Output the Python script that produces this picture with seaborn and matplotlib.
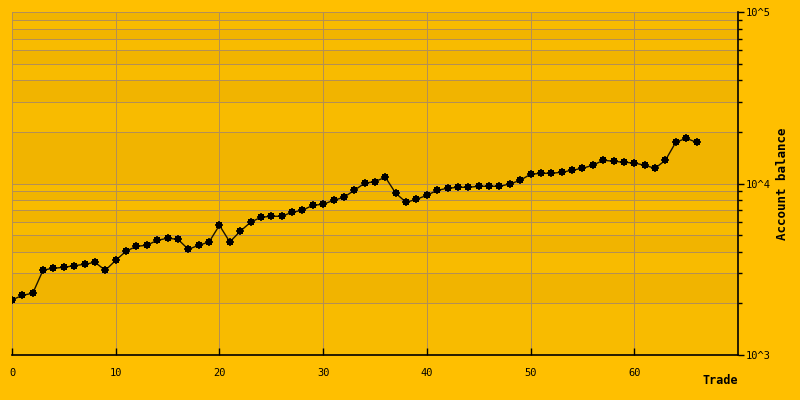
import matplotlib
matplotlib.use("Agg")
import matplotlib.pyplot as plt
import numpy as np
import pandas as pd
import seaborn as sns
from matplotlib.ticker import LogLocator, FuncFormatter, FixedLocator, NullFormatter

# ---- data ----
trade = list(range(67))
balance = [
    2093, 2229, 2290, 3130, 3203, 3246, 3317, 3380, 3471, 3118,
    3566, 4030, 4303, 4362, 4665, 4792, 4727, 4134, 4362, 4560,
    5705, 4560, 5265, 5939, 6353, 6438, 6438, 6794, 6979, 7463,
    7564, 7980, 8308, 9128, 10030, 10270, 10870, 8768, 7770, 8090,
    8535, 9128, 9376, 9501, 9501, 9631, 9631, 9631, 9933, 10440,
    11320, 11470, 11470, 11630, 11940, 12270, 12770, 13660, 13480, 13290,
    13170, 12770, 12270, 13660, 17390, 18350, 17390,
]
x_ticks = [0, 10, 20, 30, 40, 50, 60]
x_label = "Trade"
y_label = "Account balance"

df = pd.DataFrame({"Trade": trade, "Balance": balance})

sns.set_theme(style="white")
plt.rcParams["font.family"] = ["DejaVu Sans Mono", "DejaVu Sans"]

BG = "#FFBF00"
BAND_A = "#F8BB00"
BAND_B = "#F1B400"
GRID = "#B38F55"

fig = plt.figure(figsize=(8, 4), dpi=100, facecolor=BG)
ax = fig.add_axes([12 / 800, 45 / 400, 726 / 800, 343 / 400])
ax.set_facecolor(BAND_A)
ax.set_yscale("log")
ax.set_ylim(1e3, 1e5)
ax.set_xlim(0, 70)

# alternating bands between horizontal grid lines
edges = [m * 10.0 ** e for e in (3, 4) for m in range(1, 10)] + [1e5]
for i, (a, b) in enumerate(zip(edges[:-1], edges[1:])):
    ax.axhspan(a, b, color=BAND_A if i % 2 == 0 else BAND_B, lw=0, zorder=0)

sns.lineplot(data=df, x="Trade", y="Balance", ax=ax, color="#1a1200",
             linewidth=1.0, marker="s", markersize=4, markeredgewidth=0,
             markerfacecolor="black", zorder=3)
sns.scatterplot(data=df, x="Trade", y="Balance", ax=ax, color="black",
                marker="+", s=40, linewidth=1.2, zorder=4, legend=False)

ax.xaxis.set_major_locator(FixedLocator(x_ticks))
ax.yaxis.set_major_locator(LogLocator(base=10))
ax.yaxis.set_minor_locator(LogLocator(base=10, subs=range(2, 10)))
ax.yaxis.set_major_formatter(FuncFormatter(lambda v, p: "10^%d" % round(np.log10(v))))
ax.yaxis.set_minor_formatter(NullFormatter())

ax.grid(which="both", axis="both", color=GRID, linewidth=0.72)
ax.set_axisbelow(True)
for line in ax.get_xgridlines() + ax.get_ygridlines():
    line.set_zorder(1)
    line.set_antialiased(False)

for s in ("left", "top"):
    ax.spines[s].set_visible(False)
for s in ("right", "bottom"):
    ax.spines[s].set_color("black")
    ax.spines[s].set_linewidth(1.2)
    ax.spines[s].set_zorder(5)

ax.yaxis.tick_right()
ax.yaxis.set_label_position("right")
ax.tick_params(axis="y", which="major", direction="out", length=4, width=1,
               colors="black", labelsize=7.5, pad=1.5, right=True, left=False)
ax.tick_params(axis="y", which="minor", direction="out", length=3, width=1,
               colors="black", right=True, left=False)
ax.tick_params(axis="x", which="major", direction="in", length=5, width=1,
               colors="black", labelsize=7.5, pad=9, bottom=True, top=False)

ax.set_xlabel(x_label, fontweight="bold", fontsize=8.5, color="black")
ax.xaxis.set_label_coords(1.0, (355 - 381) / 343)
ax.xaxis.label.set_horizontalalignment("right")
ax.xaxis.label.set_verticalalignment("center")

ax.set_ylabel(y_label, fontweight="bold", fontsize=9, color="black")
ax.yaxis.set_label_coords((783 - 12) / 726, 0.5)
ax.yaxis.label.set_verticalalignment("center")
ax.yaxis.label.set_horizontalalignment("center")

fig.savefig("out.png", dpi=100, facecolor=BG)
